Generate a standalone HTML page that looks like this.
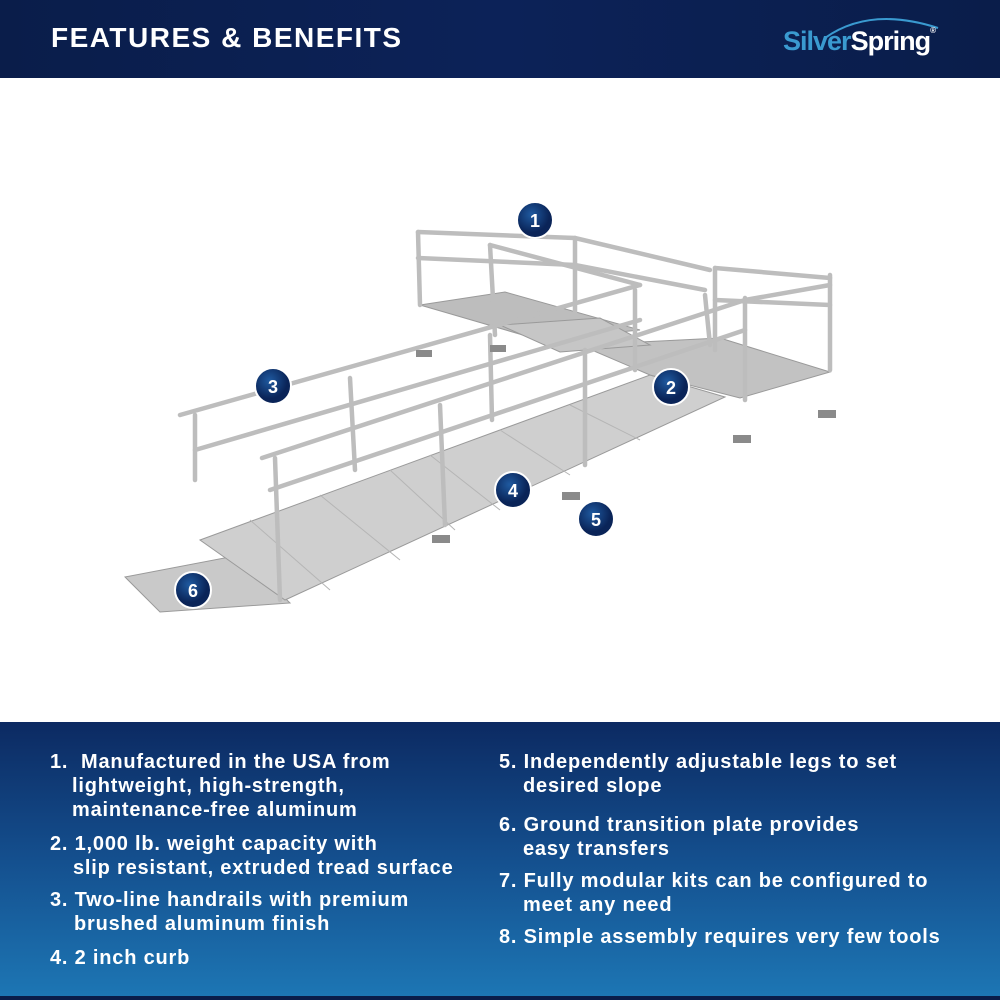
<!DOCTYPE html>
<html><head><meta charset="utf-8"><style>
html,body{margin:0;padding:0;width:1000px;height:1000px;overflow:hidden;background:#fff;font-family:"Liberation Sans",sans-serif}
.top{position:absolute;left:0;top:0;width:1000px;height:78px;background:linear-gradient(90deg,#0a1d4a,#0c2258 50%,#0a1d4a)}
.top h1{position:absolute;left:51px;top:22px;margin:0;color:#fff;font-size:28px;font-weight:bold;letter-spacing:1.5px}
.logo{position:absolute;left:783px;top:26px;font-size:27px;font-weight:bold;letter-spacing:-1px}
.bot{position:absolute;left:0;top:722px;width:1000px;height:274px;background:linear-gradient(180deg,#0c2a62 0%,#144f8e 50%,#1d76b4 100%);border-bottom:4px solid #0a1d4a}
.t{position:absolute;color:#fff;font-weight:bold;font-size:20px;letter-spacing:0.8px;line-height:24px;white-space:nowrap}
</style></head><body>
<div class="top"><h1>FEATURES &amp; BENEFITS</h1>
<svg style="position:absolute;left:820px;top:8px" width="130" height="40"><path d="M5 30 Q50 -2 118 20" stroke="#3a9ad0" stroke-width="2" fill="none"/></svg>
<div class="logo"><span style="color:#3a9ad0">Silver</span><span style="color:#fff">Spring</span><span style="color:#fff;font-size:8px;vertical-align:top">®</span></div></div>

<svg style="position:absolute;left:0;top:78px" width="1000" height="644" viewBox="0 78 1000 644">
<g stroke="#9a9a9a" stroke-width="1">
<polygon points="125,577 240,555 290,603 160,612" fill="#c9c9c9"/>
<polygon points="200,540 650,375 725,397 285,600" fill="#cfcfcf"/>
<polygon points="580,345 720,338 830,372 740,398 650,375" fill="#c2c2c2"/>
<polygon points="420,305 505,292 640,330 540,340" fill="#bdbdbd"/>
<polygon points="500,325 600,318 650,345 560,352" fill="#c6c6c6"/>
</g>
<g stroke="#b5b5b5" stroke-width="1">
<line x1="250" y1="520" x2="330" y2="590"/><line x1="320" y1="495" x2="400" y2="560"/><line x1="390" y1="470" x2="455" y2="530"/><line x1="430" y1="455" x2="500" y2="510"/><line x1="500" y1="430" x2="570" y2="475"/><line x1="570" y1="405" x2="640" y2="440"/>
</g>
<g stroke="#bdbdbd" stroke-width="4.5" fill="none" stroke-linecap="round">
<polyline points="180,415 640,285"/><polyline points="195,450 640,320"/>
<polyline points="262,458 745,300"/><polyline points="270,490 745,330"/>
<polyline points="418,232 575,238 710,270"/><polyline points="418,258 575,265 705,290"/>
<polyline points="490,245 640,285"/><polyline points="715,268 830,278"/><polyline points="715,300 830,305"/><polyline points="745,300 830,285"/>
<line x1="195" y1="415" x2="195" y2="480"/><line x1="275" y1="458" x2="280" y2="600"/>
<line x1="350" y1="378" x2="355" y2="470"/><line x1="440" y1="405" x2="445" y2="525"/>
<line x1="490" y1="335" x2="492" y2="420"/><line x1="585" y1="350" x2="585" y2="465"/>
<line x1="635" y1="290" x2="635" y2="370"/><line x1="705" y1="295" x2="710" y2="345"/>
<line x1="745" y1="298" x2="745" y2="400"/><line x1="830" y1="275" x2="830" y2="370"/>
<line x1="418" y1="232" x2="420" y2="305"/><line x1="490" y1="245" x2="495" y2="335"/>
<line x1="575" y1="238" x2="575" y2="315"/><line x1="715" y1="268" x2="715" y2="350"/>
</g>
<g fill="#8a8a8a"><rect x="432" y="535" width="18" height="8"/><rect x="562" y="492" width="18" height="8"/><rect x="733" y="435" width="18" height="8"/><rect x="818" y="410" width="18" height="8"/><rect x="416" y="350" width="16" height="7"/><rect x="490" y="345" width="16" height="7"/></g>
<defs><radialGradient id="g" cx="0.4" cy="0.35"><stop offset="0" stop-color="#1f5aa0"/><stop offset="1" stop-color="#0a2458"/></radialGradient></defs>
<g font-family="Liberation Sans" font-weight="bold" font-size="18" fill="#fff" text-anchor="middle">
<g><circle cx="535" cy="220" r="18" fill="url(#g)" stroke="#fff" stroke-width="2"/><text x="535" y="227">1</text></g>
<g><circle cx="671" cy="387" r="18" fill="url(#g)" stroke="#fff" stroke-width="2"/><text x="671" y="394">2</text></g>
<g><circle cx="273" cy="386" r="18" fill="url(#g)" stroke="#fff" stroke-width="2"/><text x="273" y="393">3</text></g>
<g><circle cx="513" cy="490" r="18" fill="url(#g)" stroke="#fff" stroke-width="2"/><text x="513" y="497">4</text></g>
<g><circle cx="596" cy="519" r="18" fill="url(#g)" stroke="#fff" stroke-width="2"/><text x="596" y="526">5</text></g>
<g><circle cx="193" cy="590" r="18" fill="url(#g)" stroke="#fff" stroke-width="2"/><text x="193" y="597">6</text></g>
</g>
</svg>

<div class="bot"></div>
<div class="t" style="left:50px;top:750px">1.&nbsp; Manufactured in the USA from</div>
<div class="t" style="left:72px;top:774px">lightweight, high-strength,</div>
<div class="t" style="left:72px;top:798px">maintenance-free aluminum</div>
<div class="t" style="left:50px;top:832px">2. 1,000 lb. weight capacity with</div>
<div class="t" style="left:73px;top:856px">slip resistant, extruded tread surface</div>
<div class="t" style="left:50px;top:888px">3. Two-line handrails with premium</div>
<div class="t" style="left:74px;top:912px">brushed aluminum finish</div>
<div class="t" style="left:50px;top:946px">4. 2 inch curb</div>
<div class="t" style="left:499px;top:750px">5. Independently adjustable legs to set</div>
<div class="t" style="left:523px;top:774px">desired slope</div>
<div class="t" style="left:499px;top:813px">6. Ground transition plate provides</div>
<div class="t" style="left:523px;top:837px">easy transfers</div>
<div class="t" style="left:499px;top:869px">7. Fully modular kits can be configured to</div>
<div class="t" style="left:523px;top:893px">meet any need</div>
<div class="t" style="left:499px;top:925px">8. Simple assembly requires very few tools</div>
</body></html>
